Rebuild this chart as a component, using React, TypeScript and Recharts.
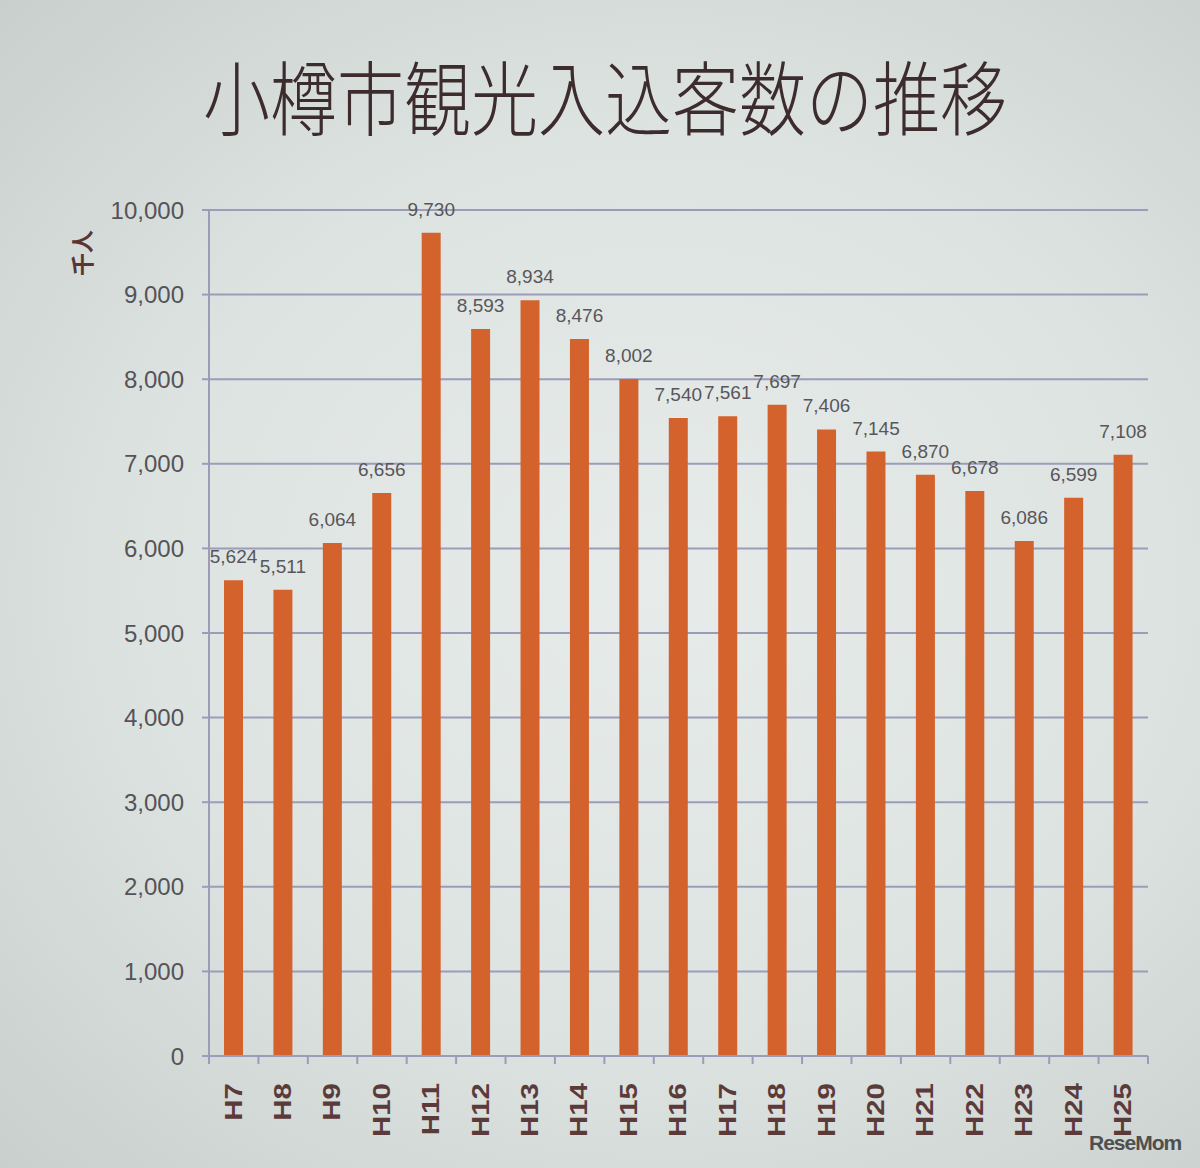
import React from 'react';
import { BarChart, Bar, XAxis, YAxis, CartesianGrid, LabelList } from 'recharts';

const years = ['H7', 'H8', 'H9', 'H10', 'H11', 'H12', 'H13', 'H14', 'H15', 'H16', 'H17', 'H18', 'H19', 'H20', 'H21', 'H22', 'H23', 'H24', 'H25'];
const visitors = [5624, 5511, 6064, 6656, 9730, 8593, 8934, 8476, 8002, 7540, 7561, 7697, 7406, 7145, 6870, 6678, 6086, 6599, 7108];
const yTicks = [0, 1000, 2000, 3000, 4000, 5000, 6000, 7000, 8000, 9000, 10000];

const data = years.map((name, i) => ({ name, value: visitors[i] }));

const W = 1200;
const H = 1168;
const MARGIN = { top: 210, right: 52, left: 0, bottom: 52 };
const Y_AXIS_W = 209;
const PLOT_W = W - MARGIN.right - MARGIN.left - Y_AXIS_W;
const BAND = PLOT_W / years.length;

const AXIS_COLOR = '#9d9cb8';
const BAR_COLOR = '#d4622d';

const fmt = (v: number) => v.toLocaleString('en-US');

// category ticks sit on band edges, label rotated under each bar
const XTick = (props: any) => {
    const { x, y, payload, index } = props;
    return (
        <g>
            <line x1={x - BAND / 2} x2={x - BAND / 2} y1={y} y2={y + 8} stroke={AXIS_COLOR} strokeWidth={2} />
            {index === years.length - 1 && (
                <line x1={x + BAND / 2} x2={x + BAND / 2} y1={y} y2={y + 8} stroke={AXIS_COLOR} strokeWidth={2} />
            )}
            <text
                transform={`translate(${x},${y + 27}) rotate(-90) scale(1.28,1)`}
                textAnchor="end"
                dominantBaseline="central"
                fontSize={23}
                fontWeight="bold"
                fill="#5b3a3a"
                fontFamily="'Liberation Sans', Arial, sans-serif"
            >
                {payload.value}
            </text>
        </g>
    );
};

export default function App() {
    return (
        <div
            style={{
                position: 'relative',
                width: W,
                height: H,
                overflow: 'hidden',
                background: 'radial-gradient(ellipse at 55% 50%, #e7eceb 0%, #dde3e1 55%, #c9cfcd 100%)',
                fontFamily: "'Liberation Sans', Arial, sans-serif",
            }}
        >
            <style>{'body{margin:0}'}</style>
            <div
                style={{
                    position: 'absolute',
                    left: 203,
                    top: 50,
                    fontSize: 67,
                    fontWeight: 300,
                    color: '#3d2c2e',
                    fontFamily: "'Noto Sans CJK JP', sans-serif",
                    transform: 'scaleY(1.2)',
                    transformOrigin: 'top left',
                    whiteSpace: 'nowrap',
                    lineHeight: 1.1,
                }}
            >
                小樽市観光入込客数の推移
            </div>
            <div
                style={{
                    position: 'absolute',
                    left: 58,
                    top: 236,
                    fontSize: 23,
                    fontWeight: 'bold',
                    color: '#5b3434',
                    fontFamily: "'Noto Sans CJK JP', sans-serif",
                    transform: 'rotate(-90deg)',
                    whiteSpace: 'nowrap',
                }}
            >
                千人
            </div>
            <BarChart width={W} height={H} data={data} margin={MARGIN} style={{ position: 'absolute', left: 0, top: 0 }}>
                <CartesianGrid vertical={false} stroke={AXIS_COLOR} strokeWidth={2} />
                <YAxis
                    width={Y_AXIS_W}
                    domain={[0, 10000]}
                    ticks={yTicks}
                    tickFormatter={fmt}
                    interval={0}
                    axisLine={{ stroke: AXIS_COLOR, strokeWidth: 2 }}
                    tickLine={{ stroke: AXIS_COLOR, strokeWidth: 2 }}
                    tickSize={7}
                    tickMargin={18}
                    tick={{ fontSize: 24, fill: '#555357' }}
                />
                <XAxis
                    dataKey="name"
                    height={60}
                    interval={0}
                    tickSize={0}
                    tickMargin={0}
                    tickLine={false}
                    axisLine={{ stroke: AXIS_COLOR, strokeWidth: 2 }}
                    tick={<XTick />}
                />
                <Bar dataKey="value" fill={BAR_COLOR} barSize={19} isAnimationActive={false}>
                    <LabelList dataKey="value" position="top" offset={17} formatter={(v: any) => fmt(Number(v))} fontSize={19} fill="#58565a" />
                </Bar>
            </BarChart>
            <div
                style={{
                    position: 'absolute',
                    left: 1089,
                    top: 1131,
                    fontSize: 21,
                    fontWeight: 'bold',
                    color: '#4f4f4f',
                    letterSpacing: -1,
                    whiteSpace: 'nowrap',
                }}
            >
                ReseMom
            </div>
        </div>
    );
}
